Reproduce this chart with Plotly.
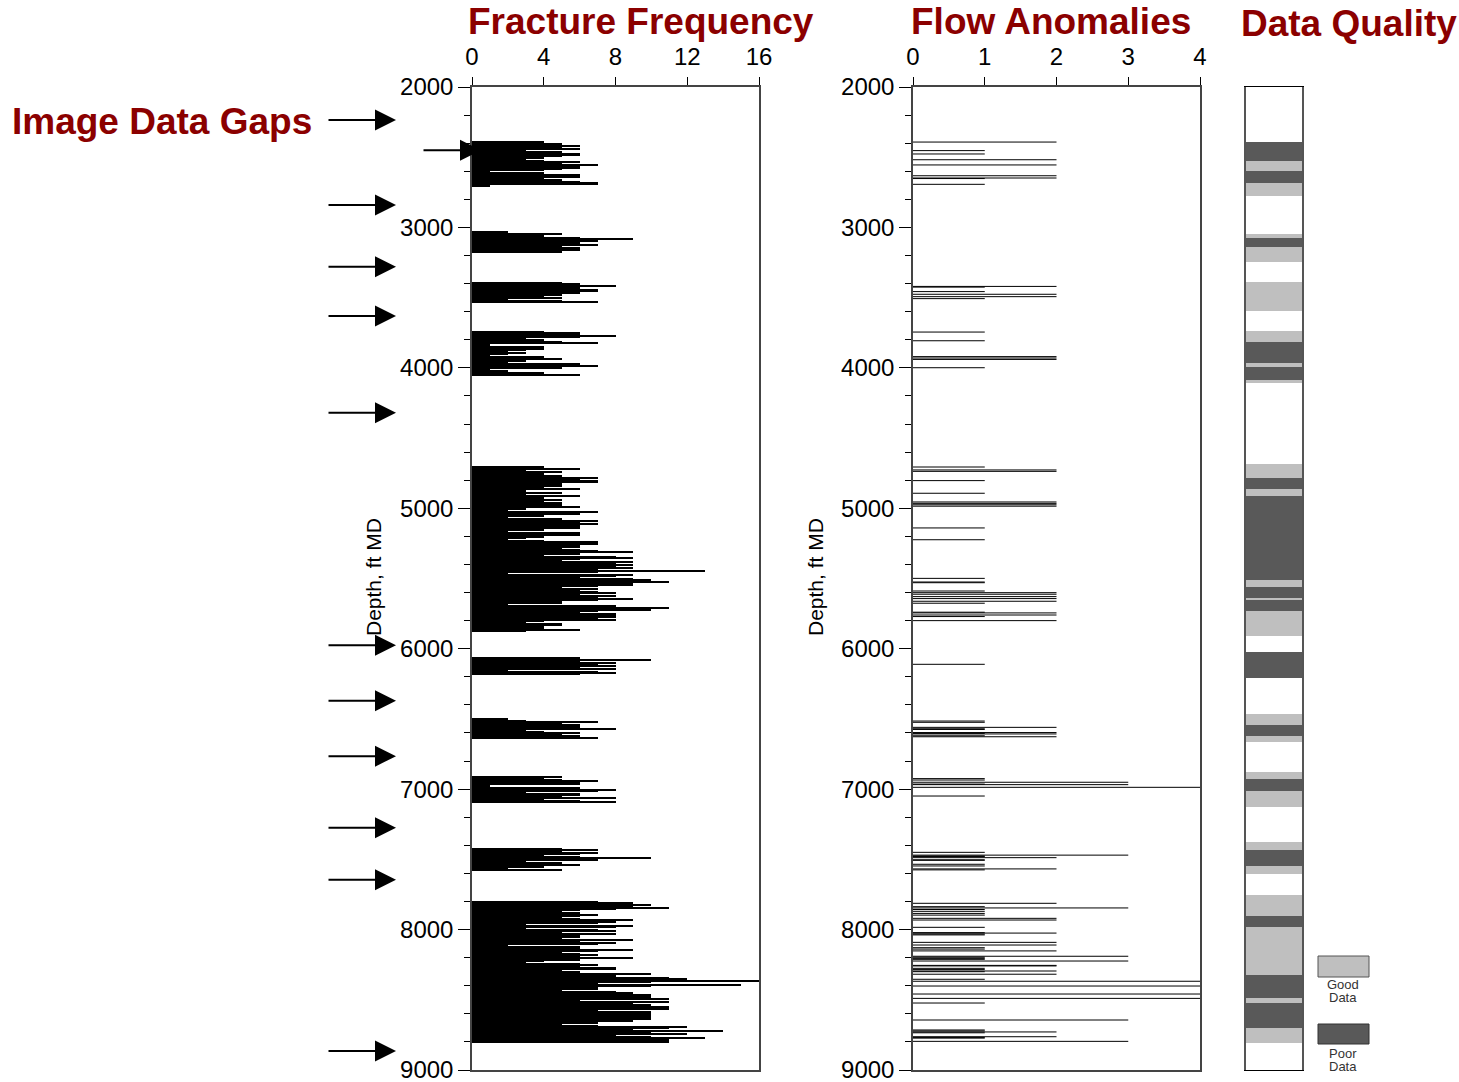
import plotly.graph_objects as go

W, H = 1459, 1082
FONT = "Arial, 'Liberation Sans', sans-serif"
TITLE_RED = "#8B0000"

# ---------------- Fracture frequency (10-ft bins, top depth of each run) ----------------
frac_tops = [2390, 3030, 3390, 3740, 4700, 6060, 6500, 6910, 7420, 7800]
frac_seg_a = [4,5,5,6,5,6,3,5,6,6,5,4,3,4,6,5,7,6,6,5,4,1,4,6,5,6,4,5,6,7,7,1]
frac_seg_b = [2,5,3,4,6,9,7,5,6,7,5,6,5,6,5]
frac_seg_c = [5,6,8,6,6,7,7,6,4,5,4,5,2,5,7]
frac_seg_d = [4,6,6,8,6,3,4,5,7,1,1,4,4,3,2,3,2,1,4,5,3,3,2,6,7,4,5,1,2,4,4,6]
frac_seg_e = [4,4,6,3,5,4,4,5,7,6,7,7,5,4,5,4,6,3,2,5,3,6,4,1,5,4,5,5,4,6,
              3,2,7,4,6,4,2,5,5,7,6,7,6,6,6,4,2,6,5,6,4,3,2,4,7,7,6,6,5,6,
              7,9,6,4,8,9,6,5,9,8,9,8,9,7,13,7,2,9,8,6,9,10,11,9,9,7,5,7,6,7,
              8,6,8,7,9,7,5,5,2,8,6,11,10,7,6,8,8,8,7,8,4,3,5,5,4,4,6,3]
frac_seg_f = [6,4,10,6,8,7,8,6,8,2,7,8,6]
frac_seg_g = [2,3,7,5,6,6,6,8,3,4,6,5,6,7]
frac_seg_h = [5,4,5,7,6,6,1,1,6,8,7,3,6,6,5,8,4,6,8]
frac_seg_i = [5,7,5,7,6,4,6,10,7,3,5,3,6,4,2,5]
frac_seg_j = [7,9,10,9,11,8,6,5,6,7,6,5,6,9,8,7,3,9,8,3,
              7,8,5,8,6,6,5,9,6,8,7,2,6,6,9,7,5,6,7,6,
              9,6,4,3,6,7,6,8,8,5,6,10,8,8,11,12,17,10,7,15,
              10,7,7,5,8,9,10,10,10,11,6,11,9,10,9,11,11,7,10,9,
              10,10,10,10,8,9,7,5,7,12,11,9,14,10,12,8,10,13,11,11,11]
frac_segments = [frac_seg_a, frac_seg_b, frac_seg_c, frac_seg_d, frac_seg_e,
                 frac_seg_f, frac_seg_g, frac_seg_h, frac_seg_i, frac_seg_j]
BIN = 10

# ---------------- Flow anomalies ----------------
flow_depth = [2392,2453,2477,2518,2555,2632,2648,2652,2693,
              3420,3425,3457,3476,3493,3507,
              3745,3807,3920,3930,3940,3999,
              4706,4727,4737,4803,4893,4955,4965,4975,4985,5140,5224,
              5499,5525,5530,5589,5601,5612,5629,5643,5662,5676,5740,5745,5760,5771,5800,6111,
              6515,6524,6560,6570,6575,6597,6603,6607,6620,6627,
              6925,6935,6951,6964,6968,6987,7049,
              7450,7470,7476,7480,7488,7503,7507,7535,7547,7568,7575,
              7813,7837,7846,7857,7870,7885,7897,7920,7932,7984,8022,8025,8032,8038,
              8091,8110,8129,8139,8152,8190,8197,8205,8212,8224,8255,8259,8276,8285,
              8295,8300,8318,8354,8368,8402,8459,8490,8523,8644,8715,8722,8729,8735,
              8763,8768,8773,8796]
flow_value = [2,1,1,2,2,2,2,1,1,
              2,1,1,2,2,1,
              1,1,2,2,2,1,
              1,2,2,1,1,2,2,2,2,1,1,
              1,1,1,1,2,2,2,2,2,1,1,2,2,1,2,1,
              1,1,2,1,1,2,1,2,1,2,
              1,1,3,1,3,4,1,
              1,3,1,1,2,1,1,1,1,2,1,
              2,1,3,1,1,1,1,2,2,1,1,2,1,1,
              2,2,1,1,2,3,1,1,1,3,2,2,1,1,
              2,1,2,1,4,4,4,4,1,3,1,1,2,1,
              2,1,1,3]

# ---------------- Data quality bands ----------------
dq_top = [2390,2527,2598,2686,3047,3073,3142,3391,3735,3818,3963,3996,4087,
          4685,4787,4865,4910,5511,5563,5641,5653,5731,6026,6467,6543,6621,
          6876,6928,7013,7378,7433,7545,7754,7901,7979,8323,8489,8525,8698]
dq_bottom = [2527,2598,2686,2776,3073,3142,3249,3597,3818,3963,3996,4087,4110,
             4787,4865,4910,5511,5563,5641,5653,5731,5907,6211,6543,6621,6662,
             6928,7013,7125,7433,7545,7607,7901,7979,8323,8489,8525,8698,8805]
dq_class = ["P","G","P","G","G","P","G","G","G","P","G","P","G",
            "G","P","G","P","G","P","G","P","G","P","G","P","G",
            "G","P","G","G","P","G","G","P","G","P","G","P","G"]
dq_colors = {"G": "#BFBFBF", "P": "#595959"}

gap_arrow_depths = [2235, 2450, 2840, 3280, 3630, 4320, 5975, 6370, 6765, 7275, 7645, 8865]

# ---------------- build traces ----------------
fy, fx = [], []
for top, vals in zip(frac_tops, frac_segments):
    for i, v in enumerate(vals):
        fy.append(top + BIN * i + BIN / 2)
        fx.append(v)

fig = go.Figure()
fig.add_trace(go.Bar(x=fx, y=fy, orientation="h", width=BIN,
                     marker=dict(color="black", line=dict(width=0)),
                     xaxis="x", yaxis="y", hoverinfo="skip"))

lx, ly = [], []
for d, v in zip(flow_depth, flow_value):
    lx += [0, v, None]
    ly += [d, d, None]
fig.add_trace(go.Scatter(x=lx, y=ly, mode="lines",
                         line=dict(color="black", width=1),
                         xaxis="x2", yaxis="y2", hoverinfo="skip"))

fig.add_trace(go.Bar(x=[0.5] * len(dq_top),
                     y=[b - t for t, b in zip(dq_top, dq_bottom)],
                     base=dq_top, width=1,
                     marker=dict(color=[dq_colors[c] for c in dq_class], line=dict(width=0)),
                     xaxis="x3", yaxis="y3", hoverinfo="skip"))

def px_x(p):
    return p / W

def px_y(p):
    return 1 - p / H

ydom = [px_y(1070), px_y(87)]
AXC = "#444444"
tickfont = dict(family=FONT, size=24, color="black")

yaxis_common = dict(range=[9000, 2000], domain=ydom, dtick=1000, tick0=2000,
                    ticks="outside", ticklen=12, tickcolor="black", tickwidth=1,
                    minor=dict(dtick=200, ticks="outside", ticklen=6, tickcolor="black"),
                    showline=True, linecolor=AXC, linewidth=1.5, mirror=True,
                    showgrid=False, zeroline=False, tickfont=tickfont, automargin=False,
                    ticklabeloverflow="allow")

xaxis_common = dict(side="top", ticks="outside", ticklen=8, tickcolor="black",
                    ticklabelstandoff=3,
                    showline=True, linecolor=AXC, linewidth=1.5, mirror=True,
                    showgrid=False, zeroline=False, tickfont=tickfont, automargin=False,
                    ticklabeloverflow="allow")

def title_ann(text, x, y, size=37, color=TITLE_RED, angle=0):
    return dict(text=text, x=px_x(x), y=px_y(y), xref="paper", yref="paper", textangle=angle,
                showarrow=False, font=dict(family=FONT, size=size, color=color),
                xanchor="center", yanchor="middle")

annotations = [
    title_ann("<b>Fracture Frequency</b>", 641, 21),
    title_ann("<b>Flow Anomalies</b>", 1051, 21),
    title_ann("<b>Data Quality</b>", 1349, 23),
    title_ann("<b>Image Data Gaps</b>", 162, 122),
    title_ann("Depth, ft MD", 373, 577, size=21, color="black", angle=-90),
    title_ann("Depth, ft MD", 815, 577, size=21, color="black", angle=-90),
    title_ann("Good", 1343, 984, size=13, color="#333333"),
    title_ann("Data", 1343, 997, size=13, color="#333333"),
    title_ann("Poor", 1343, 1053, size=13, color="#333333"),
    title_ann("Data", 1343, 1066, size=13, color="#333333"),
]
for i, d in enumerate(gap_arrow_depths):
    tip = 481 if i == 1 else 396
    length = 59 if i == 1 else 69
    annotations.append(dict(text="", x=px_x(tip), y=d, xref="paper", yref="y",
                            ax=-length, ay=0, showarrow=True, arrowhead=2,
                            arrowsize=2.1, arrowwidth=2, arrowcolor="black"))

shapes = [
    dict(type="rect", xref="paper", yref="paper", x0=px_x(1318), x1=px_x(1369),
         y0=px_y(977), y1=px_y(956), fillcolor="#BFBFBF", line=dict(color="#555555", width=1)),
    dict(type="rect", xref="paper", yref="paper", x0=px_x(1318), x1=px_x(1369),
         y0=px_y(1044), y1=px_y(1024), fillcolor="#595959", line=dict(color="#333333", width=1)),
]

fig.update_layout(
    width=W, height=H, margin=dict(l=0, r=0, t=0, b=0, autoexpand=False),
    paper_bgcolor="white", plot_bgcolor="white",
    showlegend=False, barmode="overlay", bargap=0, hovermode=False,
    font=dict(family=FONT, color="black"),
    xaxis=dict(domain=[px_x(472), px_x(759)], range=[0, 16], dtick=4, anchor="y", **xaxis_common),
    yaxis=dict(anchor="x", **yaxis_common),
    xaxis2=dict(domain=[px_x(913), px_x(1200)], range=[0, 4], dtick=1, anchor="y2", **xaxis_common),
    yaxis2=dict(anchor="x2", **yaxis_common),
    xaxis3=dict(domain=[px_x(1246), px_x(1302)], range=[0, 1], anchor="y3",
                showticklabels=False, ticks="", showline=True, linecolor="black", linewidth=1,
                mirror=True, showgrid=False, zeroline=False, automargin=False),
    yaxis3=dict(domain=ydom, range=[9000, 2000], anchor="x3", showticklabels=False, ticks="",
                showline=True, linecolor="#555555", linewidth=1.5, mirror=True,
                showgrid=False, zeroline=False, automargin=False),
    annotations=annotations, shapes=shapes,
)

fig.write_html("out.html")
